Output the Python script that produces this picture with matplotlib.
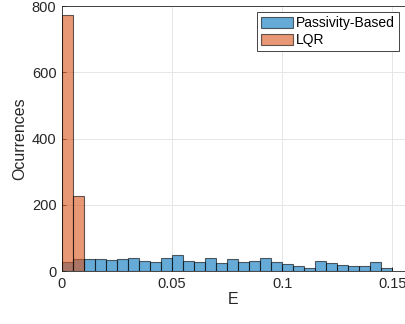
import numpy as np
import matplotlib
matplotlib.use("Agg")
import matplotlib.pyplot as plt

# Histogram bins (width 0.005 from 0 to 0.15)
bin_edges = np.round(np.arange(0, 0.1501, 0.005), 4)
passivity_counts = [28, 37, 36, 36, 33, 36, 40, 30, 29, 41, 50, 32, 29, 39,
                    24, 38, 28, 32, 41, 27, 21, 17, 11, 30, 26, 19, 15, 15, 27, 11]
lqr_edges = [0.0, 0.005, 0.01]
lqr_counts = [773, 228]
xticks = [0, 0.05, 0.1, 0.15]
xticklabels = ["0", "0.05", "0.1", "0.15"]
yticks = [0, 200, 400, 600, 800]

plt.rcParams['font.family'] = ['Liberation Sans', 'DejaVu Sans']

fig = plt.figure(figsize=(4.06, 3.24), dpi=100)
ax = fig.add_axes([62/406, (324-271.3)/324, (405-62)/406, (271.3-6)/324])

blue = '#0072BD'
orange = '#D95319'
ax.hist(bin_edges[:-1], bins=bin_edges, weights=passivity_counts,
        color=blue, alpha=0.6, edgecolor='black', linewidth=0.8,
        label='Passivity-Based', zorder=3)
ax.hist(lqr_edges[:-1], bins=lqr_edges, weights=lqr_counts,
        color=orange, alpha=0.6, edgecolor='black', linewidth=0.8,
        label='LQR', zorder=3)

ax.set_xlim(0, 0.1558)
ax.set_ylim(0, 800)
ax.set_xticks(xticks)
ax.set_xticklabels(xticklabels)
ax.set_yticks(yticks)
ax.grid(True, color='#e6e6e6', linewidth=0.7, zorder=0)
ax.set_axisbelow(True)
for s in ax.spines.values():
    s.set_color('#262626')
    s.set_linewidth(0.6)
ax.tick_params(direction='in', length=3, width=0.6, colors='#262626',
               labelsize=10.5, pad=4)
ax.set_xlabel('E', fontsize=11.5, color='#262626', labelpad=1)
ax.set_ylabel('Ocurrences', fontsize=11.5, color='#262626', labelpad=3)

leg = ax.legend(loc='upper right', fontsize=10, handlelength=2.3, handleheight=0.9,
                handletextpad=0.2, borderaxespad=0.45, borderpad=0.3,
                labelspacing=0.2, fancybox=False, framealpha=1, edgecolor='#262626')
leg.get_frame().set_linewidth(0.6)

fig.savefig('out.png', dpi=100)
